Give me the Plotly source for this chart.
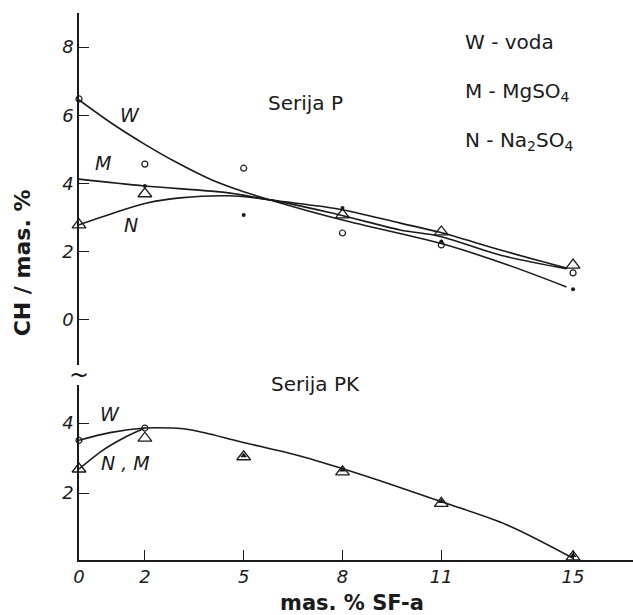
import plotly.graph_objects as go

# ---------------- data ----------------
x_ticks = [0, 2, 5, 8, 11, 15]
x_tick_labels = ["0", "2", "5", "8", "11", "15"]
yP_ticks = [0, 2, 4, 6, 8]
yPK_ticks = [2, 4]

# Serija P – drawn curves
w_p_curve_x = [0, 1, 2, 3, 4, 5, 5.8, 8, 11, 13, 14.8]
w_p_curve_y = [6.45, 5.76, 5.15, 4.6, 4.12, 3.76, 3.52, 2.93, 2.24, 1.62, 0.97]
m_p_curve_x = [0, 2, 4.59, 5.8, 7.83, 9.75, 10.96, 12.8, 14.8]
m_p_curve_y = [4.13, 3.93, 3.72, 3.52, 3.26, 2.84, 2.57, 2.05, 1.52]
n_p_curve_x = [0, 1.03, 2.06, 3.07, 4.59, 5.8, 7.83, 9.75, 10.96, 12.8, 14.8]
n_p_curve_y = [2.79, 3.13, 3.43, 3.58, 3.64, 3.52, 3.1, 2.64, 2.45, 1.9, 1.5]

# Serija P – measured points
w_p_x = [0, 2, 5, 8, 11, 15]
w_p_y = [6.48, 4.57, 4.45, 2.55, 2.2, 1.38]
m_p_x = [2, 5, 8, 11, 15]
m_p_y = [3.93, 3.08, 3.28, 2.3, 0.9]
n_p_x = [0, 2, 8, 11, 15]
n_p_y = [2.79, 3.7, 3.08, 2.58, 1.61]

# Serija PK – drawn curves
w_pk_curve_x = [0, 0.94, 2, 2.8, 3.46, 4.9, 6.71, 7.96, 9.5, 11.05, 13, 15]
w_pk_curve_y = [3.51, 3.73, 3.86, 3.86, 3.8, 3.47, 3.06, 2.71, 2.24, 1.74, 1.09, 0.14]
nm_pk_curve_x = [0, 0.73, 1.34, 2]
nm_pk_curve_y = [2.69, 3.23, 3.57, 3.86]

# Serija PK – measured points
w_pk_x = [0, 2]
w_pk_y = [3.51, 3.86]
n_pk_x = [0, 2, 5, 8, 11, 15]
n_pk_y = [2.69, 3.57, 3.04, 2.61, 1.71, 0.18]
m_pk_x = [5, 8, 11, 15]
m_pk_y = [3.07, 2.66, 1.76, 0.22]

# ---------------- figure ----------------
INK = "#1a1a1a"
FONT = "DejaVu Sans"
fig = go.Figure()

def curve(x, y, xa, ya):
    fig.add_trace(go.Scatter(x=x, y=y, mode="lines", xaxis=xa, yaxis=ya,
                             line=dict(color=INK, width=1.6, shape="spline", smoothing=0.9),
                             hoverinfo="skip", showlegend=False, cliponaxis=False))

def pts(x, y, xa, ya, symbol, size, lw=1.2):
    fig.add_trace(go.Scatter(x=x, y=y, mode="markers", xaxis=xa, yaxis=ya,
                             marker=dict(symbol=symbol, size=size, color=INK,
                                         line=dict(color=INK, width=lw)),
                             showlegend=False, cliponaxis=False))

# top panel (x2, y2)
curve(w_p_curve_x, w_p_curve_y, "x2", "y2")
curve(m_p_curve_x, m_p_curve_y, "x2", "y2")
curve(n_p_curve_x, n_p_curve_y, "x2", "y2")
pts(w_p_x, w_p_y, "x2", "y2", "circle-open", 6)
pts(m_p_x, m_p_y, "x2", "y2", "circle", 4, 0)
pts(n_p_x, n_p_y, "x2", "y2", "triangle-up-open", 12, 1.3)

# bottom panel (x, y)
curve(w_pk_curve_x, w_pk_curve_y, "x", "y")
curve(nm_pk_curve_x, nm_pk_curve_y, "x", "y")
pts(w_pk_x, w_pk_y, "x", "y", "circle-open", 6)
pts(n_pk_x, n_pk_y, "x", "y", "triangle-up-open", 12, 1.3)
pts(m_pk_x, m_pk_y, "x", "y", "triangle-up", 6, 0)

tickfont = dict(family=FONT, size=18, color=INK, style="italic")
XR = [0, 16.82]
fig.update_layout(
    width=633, height=615,
    margin=dict(l=79, r=0, t=13, b=55),
    paper_bgcolor="white", plot_bgcolor="white",
    showlegend=False,
    xaxis=dict(domain=[0, 1], anchor="y", range=XR, showline=True, linecolor=INK, linewidth=1.6,
               ticks="inside", ticklen=10, tickwidth=1.3, tickcolor=INK,
               tickvals=x_ticks, ticktext=x_tick_labels, tickfont=tickfont,
               showgrid=False, zeroline=False),
    yaxis=dict(domain=[0, 0.3199], anchor="x", range=[0.09, 5.09], showline=True,
               linecolor=INK, linewidth=1.6, ticks="inside", ticklen=10, tickwidth=1.3,
               tickcolor=INK, tickvals=yPK_ticks, tickfont=tickfont,
               showgrid=False, zeroline=False),
    xaxis2=dict(domain=[0, 1], anchor="y2", range=XR, matches="x", visible=False),
    yaxis2=dict(domain=[0.3565, 1], anchor="x2", range=[-1.32, 9.0], showline=True,
                linecolor=INK, linewidth=1.6, ticks="inside", ticklen=10, tickwidth=1.3,
                tickcolor=INK, tickvals=yP_ticks, tickfont=tickfont,
                showgrid=False, zeroline=False),
)

lab = dict(family=FONT, size=19, color=INK, style="italic")
txt = dict(family=FONT, size=20, color=INK)
ann = [
    # curve labels
    dict(text="W", x=1.55, y=6.0, xref="x2", yref="y2", font=lab),
    dict(text="M", x=0.73, y=4.6, xref="x2", yref="y2", font=lab),
    dict(text="N", x=1.58, y=2.78, xref="x2", yref="y2", font=lab),
    dict(text="W", x=0.94, y=4.26, xref="x", yref="y", font=lab),
    dict(text="N , M", x=1.4, y=2.86, xref="x", yref="y", font=lab),
    # series titles
    dict(text="Serija P", x=0.408, y=0.836, xref="paper", yref="paper", font=txt),
    dict(text="Serija PK", x=0.426, y=0.3218, xref="paper", yref="paper", font=txt),
    # key
    dict(text="W - voda", x=0.693, y=0.947, xref="paper", yref="paper", xanchor="left", font=txt),
    dict(text="M - MgSO<sub>4</sub>", x=0.693, y=0.8555, xref="paper", yref="paper",
         xanchor="left", font=txt),
    dict(text="N - Na<sub>2</sub>SO<sub>4</sub>", x=0.693, y=0.7655, xref="paper", yref="paper",
         xanchor="left", font=txt),
    # axis titles
    dict(text="<b>mas. % SF-a</b>", x=0.492, y=-0.078, xref="paper", yref="paper",
         font=dict(family=FONT, size=21, color=INK)),
    dict(text="<b>CH / mas. %</b>", x=-0.103, y=0.544, xref="paper", yref="paper",
         textangle=-90, font=dict(family=FONT, size=22, color=INK)),
    # axis break
    dict(text="~", x=0, y=0.3382, xref="paper", yref="paper",
         font=dict(family=FONT, size=24, color=INK)),
]
for a in ann:
    a.setdefault("showarrow", False)
    a.setdefault("xanchor", "center")
    a.setdefault("yanchor", "middle")
fig.update_layout(annotations=ann)

fig.write_html("out.html", config={"displayModeBar": False},
               post_script="document.body.style.margin='0';document.body.style.overflow='hidden';")
